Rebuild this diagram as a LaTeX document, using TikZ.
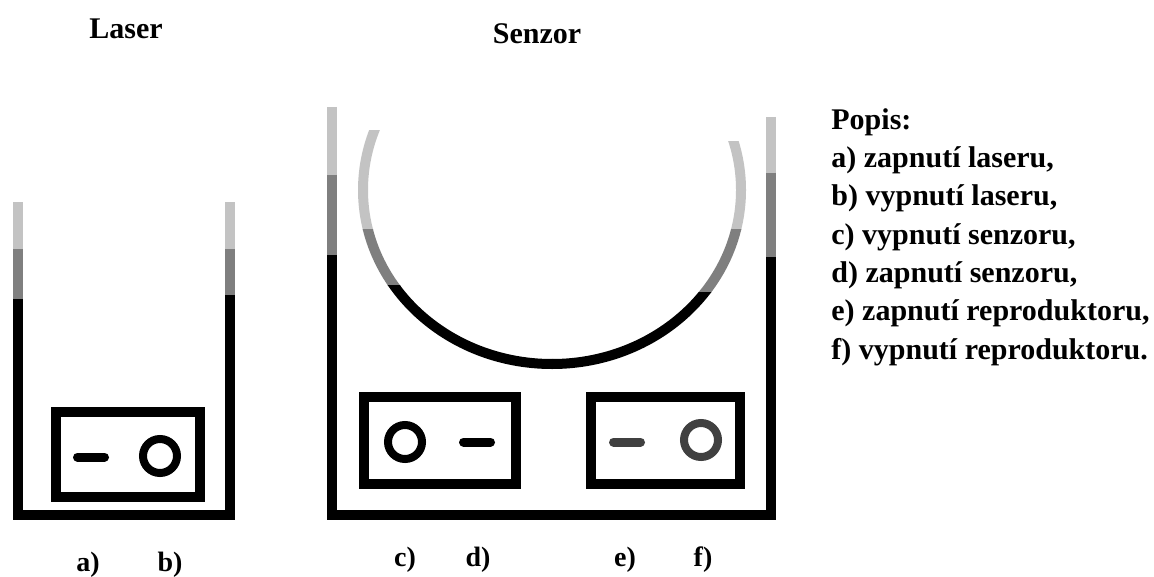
\documentclass[tikz,border=0pt]{standalone}
\usepackage{fontspec}
\setmainfont{Liberation Serif}
\definecolor{lightbar}{HTML}{C3C3C3}
\definecolor{midbar}{HTML}{7F7F7F}
\definecolor{darkpart}{HTML}{404040}
\begin{document}
\begin{tikzpicture}[x=0.5pt, y=-0.5pt,
    wall/.style={line width=5pt, miter limit=10},
    panel/.style={line width=5pt},
    led/.style={line width=4pt},
    dashkey/.style={line width=4.5pt, line cap=round},
    label/.style={font=\bfseries\fontsize{15}{17}\selectfont, inner sep=0pt},
    keyletter/.style={font=\bfseries\fontsize{14}{16}\selectfont, inner sep=0pt}]
    \useasboundingbox (0,0) rectangle (1154,577);

    % Laser housing
    \draw[wall, lightbar] (18,202) -- (18,249);
    \draw[wall, midbar] (18,249) -- (18,299);
    \draw[wall, lightbar] (230,202) -- (230,249);
    \draw[wall, midbar] (230,249) -- (230,295);
    \draw[wall] (18,299) -- (18,515) -- (230,515) -- (230,295);

    % Laser panel
    \draw[panel] (56,412) rectangle (200,497);
    \draw[dashkey] (77.5,457) -- (104.5,457);
    \draw[led] (160,456) circle (17);

    % Senzor housing
    \draw[wall, lightbar] (332,107) -- (332,175);
    \draw[wall, midbar] (332,175) -- (332,255);
    \draw[wall, lightbar] (771,117) -- (771,173);
    \draw[wall, midbar] (771,173) -- (771,257);
    \draw[wall] (332,255) -- (332,515) -- (771,515) -- (771,257);

    % Senzor dish, cut flat into bands
    \foreach \col/\xa/\ya/\xb/\yb in {lightbar/340/131/552/229, midbar/340/229/552/285, black/340/285/553/375,
        lightbar/552/142/760/229, midbar/552/229/760/292, black/552/292/760/375} {
        \begin{scope}
            \clip (\xa,\ya) rectangle (\xb,\yb);
            \draw[wall, \col] (552,190) ellipse (189 and 174);
        \end{scope}
    }

    % Senzor panels
    \draw[panel] (364,397) rectangle (516,484);
    \draw[led] (405,442) circle (17);
    \draw[dashkey] (463.5,442) -- (490.5,442);
    \draw[panel] (591,397) rectangle (740,484);
    \draw[dashkey, darkpart] (613.5,442) -- (640.5,442);
    \draw[led, darkpart] (701,440) circle (17);

    % Titles
    \node[label] (laser) at (126,29) {Laser};
    \node[label] (senzor) at (537,34) {Senzor};

    % Key letters
    \node[keyletter] (ka) at (88,565) {a)};
    \node[keyletter] (kb) at (170,565) {b)};
    \node[keyletter] (kc) at (405,560) {c)};
    \node[keyletter] (kd) at (478,560) {d)};
    \node[keyletter] (ke) at (625,560) {e)};
    \node[keyletter] (kf) at (703,560) {f)};

    % Legend
    \node[label, anchor=north west, align=left, font=\bfseries\fontsize{15}{19.15}\selectfont] (popis) at (831,108) {Popis:\\
        a) zapnutí laseru,\\
        b) vypnutí laseru,\\
        c) vypnutí senzoru,\\
        d) zapnutí senzoru,\\
        e) zapnutí reproduktoru,\\
        f) vypnutí reproduktoru.};
\end{tikzpicture}
\end{document}
